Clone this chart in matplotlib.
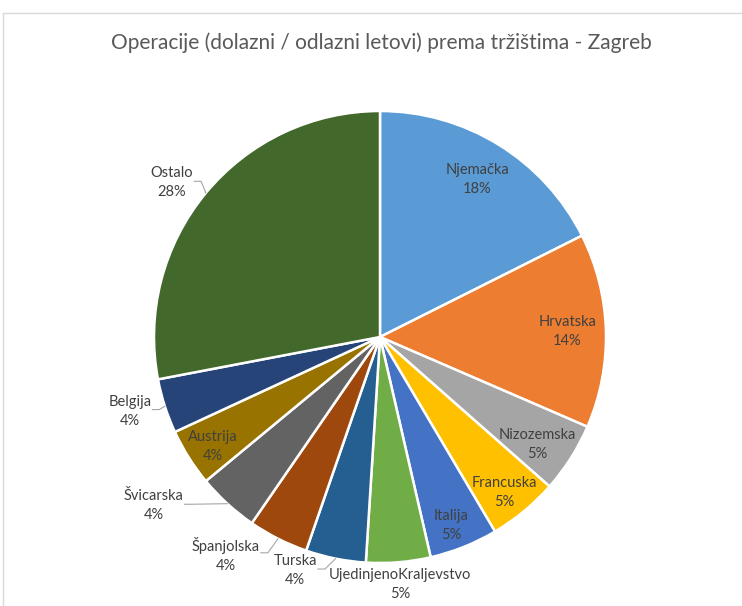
import numpy as np
from matplotlib import pyplot as plt

plt.rcParams['font.family'] = ['Lato', 'DejaVu Sans']

# data (share of operations, %)
markets = ['Njemačka', 'Hrvatska', 'Nizozemska', 'Francuska', 'Italija',
           'Ujedinjeno Kraljevstvo', 'Turska', 'Španjolska', 'Švicarska',
           'Austrija', 'Belgija', 'Ostalo']
shares = [17.6, 13.9, 5.0, 5.0, 4.9, 4.6, 4.3, 4.3, 4.4, 4.1, 3.9, 28.0]
colors = ['#5B9BD5', '#ED7D31', '#A5A5A5', '#FFC000', '#4472C4', '#70AD47',
          '#255E91', '#9E480E', '#636363', '#997300', '#264478', '#43682B']

# label layout: distance from centre (in radii), angle shift (deg), leader line?
lab_r = [0.82, 0.83, 0.845, 0.88, 0.89, 1.10, 1.10, 1.18, 1.25, 0.885, 1.155, 1.146]
lab_da = [0, 0, 2, 1, 1, 0, 8.6, 8.5, 10.8, -1, 1.3, -3.1]
leader = [False, False, False, False, False, False, True, True, True, False, True, True]

LAB_FS = 10.5

W, H = 742, 606
fig = plt.figure(figsize=(W / 100, H / 100), dpi=100)
ax = fig.add_axes([0, 0, 1, 1])

cx, cy, R = 380, H - 337, 226

ax.pie(shares, colors=colors, startangle=90, counterclock=False,
       radius=R, center=(cx, cy), frame=True,
       wedgeprops=dict(edgecolor='white', linewidth=1.8))
ax.set_xlim(0, W)
ax.set_ylim(0, H)
ax.axis('off')

# chart frame (only top and left edges are visible in the crop)
ax.plot([3, 3, W], [0, H - 13, H - 13], color='#D9D9D9', lw=1)

ax.text(381, H - 43, 'Operacije (dolazni / odlazni letovi) prema tržištima - Zagreb',
        ha='center', va='center', fontsize=15, color='#595959')

total = sum(shares)
cum = np.cumsum([0] + shares[:-1]) / total
frac = np.array(shares) / total
texts = []
for i, name in enumerate(markets):
    mid = (cum[i] + frac[i] / 2) * 360
    th = np.radians(mid + lab_da[i])
    x = cx + lab_r[i] * R * np.sin(th)
    y = cy + lab_r[i] * R * np.cos(th)
    label = name.replace('Ujedinjeno Kraljevstvo', 'UjedinjenoKraljevstvo')
    t = ax.text(x, y, '%s\n%d%%' % (label, round(shares[i])), ha='center', va='center',
                fontsize=LAB_FS, color='#404040', linespacing=1.45)
    texts.append((t, np.radians(mid)))

fig.canvas.draw()
renderer = fig.canvas.get_renderer()
inv = ax.transData.inverted()
for (t, th), show in zip(texts, leader):
    if not show:
        continue
    bb = t.get_window_extent(renderer)
    (x0, y0), (x1, y1) = inv.transform([[bb.x0, bb.y0], [bb.x1, bb.y1]])
    # right edge of the name line, just under its baseline
    tmp = ax.text(0, 0, t.get_text().split('\n')[0], fontsize=LAB_FS)
    nb = tmp.get_window_extent(renderer)
    tmp.remove()
    xr = (x0 + x1) / 2 + (nb.x1 - nb.x0) / 2 + 1
    yl = y1 - (y1 - y0) * 0.45
    px = cx + R * np.sin(th)
    py = cy + R * np.cos(th)
    ax.plot([xr, xr + 7, px], [yl, yl, py], color='#A6A6A6', lw=0.8)

plt.savefig('out.png', dpi=100)
